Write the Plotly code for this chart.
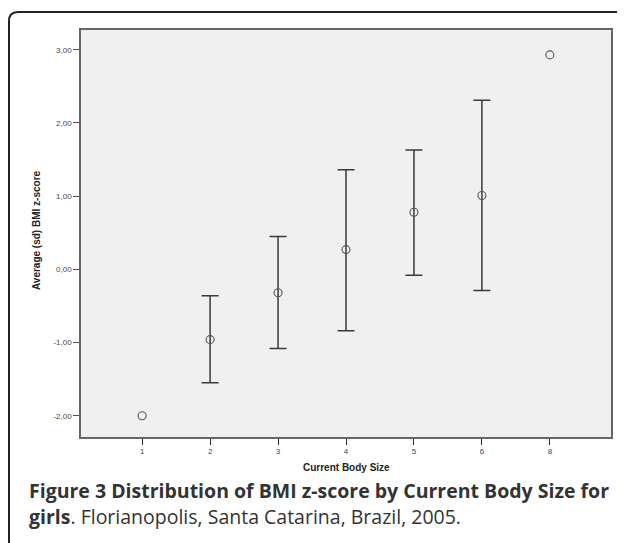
import plotly.graph_objects as go

categories = ["1", "2", "3", "4", "5", "6", "8"]
means = [-2.00, -0.96, -0.32, 0.27, 0.78, 1.01, 2.93]
upper = [None, -0.36, 0.45, 1.36, 1.63, 2.31, None]
lower = [None, -1.55, -1.08, -0.84, -0.08, -0.29, None]
ytick_vals = [-2, -1, 0, 1, 2, 3]
ytick_text = ["-2,00", "-1,00", "0,00", "1,00", "2,00", "3,00"]

# categories that have an sd bar
eb_x = [c for c, u in zip(categories, upper) if u is not None]
eb_y = [m for m, u in zip(means, upper) if u is not None]
eb_plus = [u - m for m, u in zip(means, upper) if u is not None]
eb_minus = [m - l for m, l in zip(means, lower) if l is not None]

# page body has an 8px margin; work in screen pixels and shift
OFF = 8
W, H = 625 - OFF, 543 - OFF
L, R, T, B = 81 - OFF, 611 - OFF, 30 - OFF, 437 - OFF

def px(x):
    return (x - OFF - L) / (R - L)

def py(y):
    return (B - (y - OFF)) / (B - T)

fig = go.Figure()
fig.add_trace(go.Scatter(
    x=eb_x, y=eb_y, mode="markers",
    marker=dict(size=1, color="rgba(0,0,0,0)"),
    error_y=dict(type="data", symmetric=False, array=eb_plus, arrayminus=eb_minus,
                 color="#3a3a3a", thickness=1.5, width=8.5),
    showlegend=False, hoverinfo="skip",
))
fig.add_trace(go.Scatter(
    x=categories, y=means, mode="markers",
    marker=dict(symbol="circle-open", size=8, color="#555555", line=dict(width=1.1)),
    showlegend=False, hoverinfo="skip",
))

axis_font = dict(family="Liberation Sans, Arial, sans-serif", size=8, color="#444444")
fig.update_xaxes(
    type="category", categoryorder="array", categoryarray=categories,
    range=[-0.9, 6.9], showgrid=False, zeroline=False,
    showline=True, linecolor="#666666", linewidth=1.5, mirror=True,
    ticks="outside", ticklen=6, tickcolor="#222222", tickwidth=1.2,
    tickfont=axis_font,
)
fig.update_yaxes(
    range=[-2.29, 3.27], showgrid=False, zeroline=False,
    showline=True, linecolor="#666666", linewidth=1.5, mirror=True,
    ticks="outside", ticklen=6, tickcolor="#555555", tickwidth=1,
    tickvals=ytick_vals, ticktext=ytick_text, tickfont=axis_font,
)

# rounded outer frame (open at right/bottom edges of the image)
fx0, fy0, rad = 9, 12, 9
path = (f"M {px(fx0)},{py(570)} L {px(fx0)},{py(fy0 + rad)} "
        f"Q {px(fx0)},{py(fy0)} {px(fx0 + rad)},{py(fy0)} L {px(660)},{py(fy0)}")
fig.add_shape(type="path", path=path, xref="paper", yref="paper",
              line=dict(color="#222222", width=2))

title_font = dict(family="Liberation Sans, Arial, sans-serif", size=10, color="#222222")
fig.add_annotation(text="<b>Current Body Size</b>", x=px(346), y=py(467),
                   xref="paper", yref="paper", showarrow=False,
                   xanchor="center", yanchor="middle", font=title_font)
fig.add_annotation(text="<b>Average (sd) BMI z-score</b>", x=px(37), y=py(230),
                   xref="paper", yref="paper", showarrow=False, textangle=-90,
                   xanchor="center", yanchor="middle", font=title_font)

cap_font = dict(family="Open Sans, sans-serif", size=19.5, color="#333333")
fig.add_annotation(text="<b>Figure 3 Distribution of BMI z-score by Current Body Size for</b>",
                   x=px(27), y=py(490), xref="paper", yref="paper", showarrow=False,
                   xanchor="left", yanchor="middle", font=cap_font)
fig.add_annotation(text="<b>girls</b>. Florianopolis, Santa Catarina, Brazil, 2005.",
                   x=px(27), y=py(516), xref="paper", yref="paper", showarrow=False,
                   xanchor="left", yanchor="middle", font=cap_font)

fig.update_layout(
    width=W, height=H,
    margin=dict(l=L, r=W - R, t=T, b=H - B),
    paper_bgcolor="white", plot_bgcolor="#f0f0f0",
)

fig.write_html("out.html")
